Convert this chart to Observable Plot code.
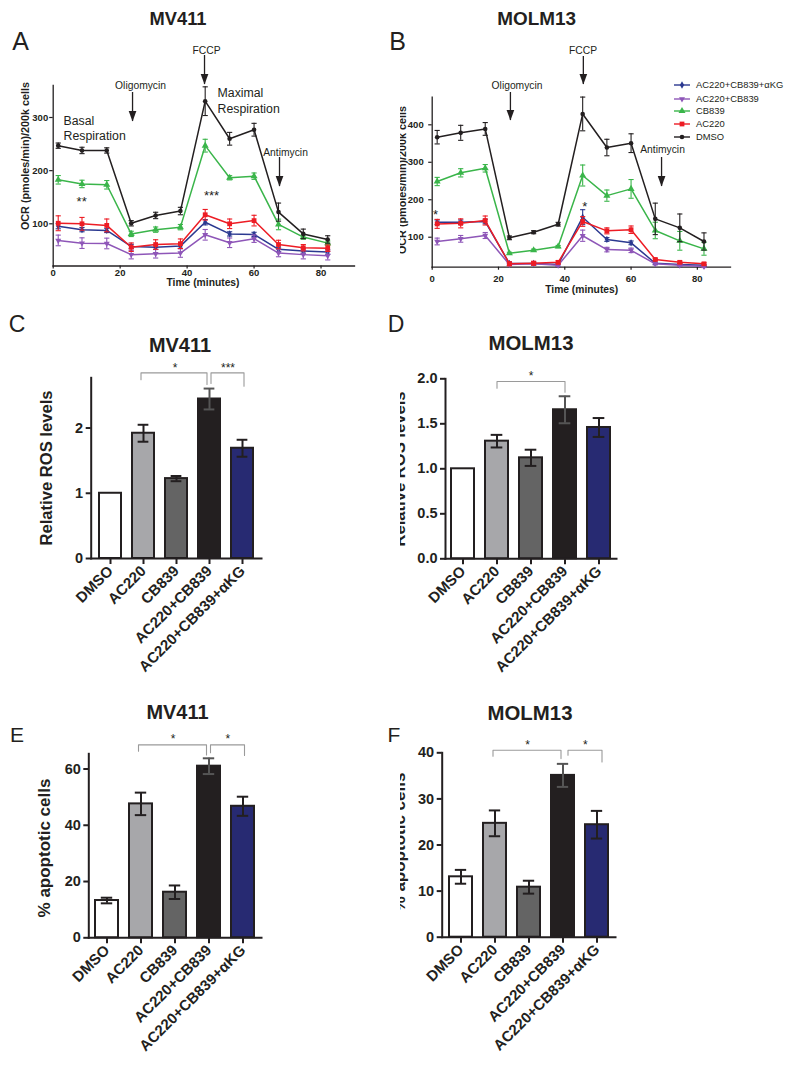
<!DOCTYPE html>
<html>
<head>
<meta charset="utf-8">
<script src="https://cdn.jsdelivr.net/npm/d3@7"></script>
<script src="https://cdn.jsdelivr.net/npm/@observablehq/plot@0.6"></script>
<style>
  html, body { margin: 0; padding: 0; background: #fff; }
  #fig { position: relative; width: 800px; height: 1073px; overflow: hidden; background: #fff; }
  #clipR { position: absolute; left: 400px; top: 0; width: 400px; height: 1073px; overflow: hidden; }
</style>
</head>
<body>
<div id="fig"><div id="clipR"></div></div>
<script>
// ---------------- DATA ----------------
// Seahorse OCR time points (minutes)
const times = [1.5, 8.6, 16.0, 23.3, 30.6, 38.0, 45.4, 52.7, 60.0, 67.3, 74.7, 82.0];
const seriesNames = ["AC220+CB839+αKG", "AC220+CB839", "CB839", "AC220", "DMSO"];

// Panel A: MV411 OCR (mean, sem)
const mv411_AKG      = [95.6, 89, 87.5, 57.4, 56, 58, 103, 81, 80, 52, 49, 47];
const mv411_AKG_err  = [5, 4, 4, 4, 4, 4, 5, 4, 4, 4, 4, 4];
const mv411_combo    = [68.7, 63.6, 63, 42, 43.6, 45, 79.3, 64.3, 72, 45, 42, 40];
const mv411_combo_err= [10, 10, 10, 8, 8, 8, 10, 9, 7, 7, 8, 8];
const mv411_CB839    = [182.8, 175, 173.4, 81, 89, 93.7, 247, 186.6, 189.6, 98.8, 75, 63.6];
const mv411_CB839_err= [8, 7, 8, 5, 5, 5, 12, 4, 6, 10, 4, 4];
const mv411_AC220    = [101, 100, 97, 56, 61, 62.5, 117, 100, 106, 61, 55, 54];
const mv411_AC220_err= [14, 12, 12, 8, 9, 9, 10, 9, 10, 8, 6, 6];
const mv411_DMSO     = [247, 238, 238, 101, 115.7, 124, 330.7, 260, 277, 122, 81, 70.5];
const mv411_DMSO_err = [5, 6, 5, 5, 6, 7, 27, 12, 12, 17, 9, 7];

// Panel B: MOLM13 OCR (mean, sem)
const molm_AKG       = [140, 140, 141.9, 30, 30, 27, 153.5, 94, 85, 30.6, 27, 25];
const molm_AKG_err   = [6, 6, 6, 4, 4, 4, 20, 5, 5, 3, 3, 3];
const molm_combo     = [88.6, 95.7, 104.6, 27, 29, 25, 104, 67, 65, 29, 25, 22];
const molm_combo_err = [9, 9, 8, 3, 3, 3, 15, 6, 6, 3, 3, 3];
const molm_CB839     = [248.7, 271.9, 284, 57, 65.3, 75, 264.7, 211, 229, 118, 90.4, 69];
const molm_CB839_err = [11, 11, 10, 3, 3, 3, 28, 15, 25, 22, 25, 17];
const molm_AC220     = [135.6, 137, 144.6, 29, 30.6, 33, 142, 117, 120, 40.6, 33, 29];
const molm_AC220_err = [12, 12, 12, 5, 5, 4, 13, 8, 10, 3, 3, 3];
const molm_DMSO      = [367, 378.6, 389, 98.4, 113.4, 134.7, 429, 339.4, 351, 149, 125, 88.6];
const molm_DMSO_err  = [18, 20, 17, 5, 4, 5, 45, 22, 25, 42, 37, 23];

// Bar panels
const categories = ["DMSO", "AC220", "CB839", "AC220+CB839", "AC220+CB839+αKG"];
const rosMV411       = [1.0, 1.92, 1.225, 2.445, 1.69];
const rosMV411_err   = [0, 0.13, 0.04, 0.16, 0.13];
const rosMOLM13      = [1.0, 1.307, 1.122, 1.656, 1.459];
const rosMOLM13_err  = [0, 0.07, 0.09, 0.15, 0.105];
const apoMV411       = [13.25, 47.6, 16.2, 61.0, 46.75];
const apoMV411_err   = [1.0, 4.0, 2.4, 2.8, 3.4];
const apoMOLM13      = [13.1, 24.7, 10.85, 35.1, 24.4];
const apoMOLM13_err  = [1.5, 2.8, 1.4, 2.5, 3.0];

// ---------------- STYLE ----------------
const FONT = '"Liberation Sans", Arial, Helvetica, sans-serif';
const INK = "#231f20";
const seriesColors = ["#2b3990", "#8e56b8", "#3ab54a", "#ed1c24", "#231f20"];
const barColors = ["#ffffff", "#a7a7aa", "#646464", "#231f20", "#272a72"];

const capSymbol = {draw(ctx, size) { const r = Math.sqrt(size / Math.PI); ctx.moveTo(-r, 0); ctx.lineTo(r, 0); }};
const headSymbol = {draw(ctx, size) { const r = Math.sqrt(size / Math.PI); ctx.moveTo(0, 0); ctx.lineTo(-0.8 * r, -2.2 * r); ctx.lineTo(0.8 * r, -2.2 * r); ctx.closePath(); }};
const triDown = {draw(ctx, size) { const r = Math.sqrt(size / Math.PI); const s = 2.3 * r, h = 2.0 * r; ctx.moveTo(-s / 2, -h / 3); ctx.lineTo(s / 2, -h / 3); ctx.lineTo(0, 2 * h / 3); ctx.closePath(); }};
const seriesSymbols = ["diamond", triDown, "triangle", "square", "circle"];
const seriesR = [2.2, 2.6, 2.6, 2.7, 2.3];

const fig = document.getElementById("fig");
const clipR = document.getElementById("clipR");

function addText(parent, text, x, y, size, weight = "bold", rotate = 0, ox = 0) {
  const d = document.createElement("div");
  d.textContent = text;
  d.style.cssText = `position:absolute;left:${x - ox}px;top:${y}px;transform:translate(-50%,-50%) rotate(${rotate}deg);` +
    `font-family:${FONT};font-size:${size}px;font-weight:${weight};line-height:1;white-space:nowrap;color:${INK};`;
  parent.appendChild(d);
}

function mount(svg, left, top) {
  svg.style.position = "absolute";
  svg.style.left = left + "px";
  svg.style.top = top + "px";
  fig.appendChild(svg);
}

// ---------------- LINE CHARTS (A, B) ----------------
function ocrChart(cfg) {
  const rows = seriesNames.flatMap((s, k) =>
    times.map((t, i) => ({series: s, t, v: cfg.values[k][i], e: cfg.errors[k][i]})));
  const marks = [];
  seriesNames.forEach((s, k) => {
    const sr = rows.filter(d => d.series === s);
    const col = seriesColors[k];
    marks.push(
      Plot.ruleX(sr, {x: "t", y1: d => d.v - d.e, y2: d => d.v + d.e, stroke: col, strokeWidth: 1.1}),
      Plot.dot(sr, {x: "t", y: d => d.v + d.e, symbol: capSymbol, r: 2.6, stroke: col, fill: "none", strokeWidth: 1.1}),
      Plot.dot(sr, {x: "t", y: d => d.v - d.e, symbol: capSymbol, r: 2.6, stroke: col, fill: "none", strokeWidth: 1.1}),
      Plot.line(sr, {x: "t", y: "v", stroke: col, strokeWidth: 1.5}),
      Plot.dot(sr, {x: "t", y: "v", symbol: seriesSymbols[k], r: seriesR[k], fill: col, stroke: "none"})
    );
  });
  const notesMid = cfg.notes.filter(d => d.anchor === "middle");
  const notesStart = cfg.notes.filter(d => d.anchor === "start");
  const svg = Plot.plot({
    width: cfg.width, height: cfg.height,
    marginLeft: cfg.ml, marginRight: cfg.mr, marginTop: cfg.mt, marginBottom: cfg.mb,
    x: {domain: [0, 90]},
    y: {domain: cfg.yDomain},
    style: {background: "transparent", overflow: "visible", fontFamily: FONT, fontSize: "9.5px", fontWeight: "bold", color: INK},
    marks: [
      Plot.axisX({ticks: [0, 20, 40, 60, 80], tickSize: 3, tickPadding: cfg.xPad, label: null, strokeWidth: 1.2}),
      Plot.axisY({ticks: cfg.yTicks, tickSize: 3.5, tickPadding: cfg.yPad, label: null, strokeWidth: 1.2}),
      Plot.frame({anchor: "left", strokeWidth: 1.3}),
      Plot.frame({anchor: "bottom", strokeWidth: 1.3}),
      ...marks,
      Plot.ruleX(cfg.arrows, {x: "t", y1: "from", y2: "to", stroke: INK, strokeWidth: 1.3}),
      Plot.dot(cfg.arrows, {x: "t", y: "to", symbol: headSymbol, r: 4.8, fill: INK, stroke: "none"}),
      Plot.text(notesMid, {x: "t", y: "v", text: "text", fontSize: "size", textAnchor: "middle", fontWeight: "normal", fill: INK}),
      Plot.text(notesStart, {x: "t", y: "v", text: "text", fontSize: "size", textAnchor: "start", lineHeight: 1.25, fontWeight: "normal", fill: INK}),
      Plot.text(cfg.stars, {x: "t", y: "v", text: "label", fontSize: 13, dy: 3, fontWeight: "normal", fill: INK})
    ]
  });
  mount(svg, cfg.left, cfg.top);
}

ocrChart({
  left: 0, top: 40, width: 395, height: 260, ml: 52.7, mr: 41, mt: 45, mb: 34.5,
  yDomain: [20.6, 360.2], yTicks: [100, 200, 300], xPad: 0, yPad: 1.5,
  values: [mv411_AKG, mv411_combo, mv411_CB839, mv411_AC220, mv411_DMSO],
  errors: [mv411_AKG_err, mv411_combo_err, mv411_CB839_err, mv411_AC220_err, mv411_DMSO_err],
  arrows: [{t: 23.7, from: 347, to: 292.5}, {t: 45.2, from: 416.6, to: 362}, {t: 67.6, from: 224.7, to: 170}],
  notes: [
    {text: "Oligomycin", t: 26.1, v: 359, anchor: "middle", size: 10.3},
    {text: "FCCP", t: 45.8, v: 425, anchor: "middle", size: 10.3},
    {text: "Antimycin", t: 69.4, v: 233, anchor: "middle", size: 10.3},
    {text: "Basal\nRespiration", t: 3.1, v: 281, anchor: "start", size: 12.3},
    {text: "Maximal\nRespiration", t: 49.1, v: 333, anchor: "start", size: 12.3}
  ],
  stars: [{label: "**", t: 8.5, v: 147.6}, {label: "***", t: 47.3, v: 159}]
});

ocrChart({
  left: 400, top: 40, width: 400, height: 260, ml: 31.7, mr: 70, mt: 56.7, mb: 33.3,
  yDomain: [20, 473.7], yTicks: [100, 200, 300, 400], xPad: 5, yPad: 5,
  values: [molm_AKG, molm_combo, molm_CB839, molm_AC220, molm_DMSO],
  errors: [molm_AKG_err, molm_combo_err, molm_CB839_err, molm_AC220_err, molm_DMSO_err],
  arrows: [{t: 23.6, from: 486.2, to: 411.5}, {t: 45.6, from: 582.3, to: 507.6}, {t: 69.2, from: 312.7, to: 235.3}],
  notes: [
    {text: "Oligomycin", t: 25.6, v: 504.9, anchor: "middle", size: 10.3},
    {text: "FCCP", t: 45.5, v: 598.3, anchor: "middle", size: 10.3},
    {text: "Antimycin", t: 69.5, v: 334, anchor: "middle", size: 10.3}
  ],
  stars: [{label: "*", t: 1.0, v: 168.6}, {label: "*", t: 46, v: 190}]
});

// Legend (panel B)
{
  const rowsY = [85, 98.5, 111, 123.5, 137];
  const symFns = [d3.symbolDiamond, null, d3.symbolTriangle, d3.symbolSquare, d3.symbolCircle];
  seriesNames.forEach((s, k) => {
    const ns = "http://www.w3.org/2000/svg";
    const sv = document.createElementNS(ns, "svg");
    sv.setAttribute("width", 18); sv.setAttribute("height", 10);
    sv.style.cssText = `position:absolute;left:674px;top:${rowsY[k] - 5}px;overflow:visible;`;
    const ln = document.createElementNS(ns, "line");
    ln.setAttribute("x1", 0); ln.setAttribute("x2", 16); ln.setAttribute("y1", 5); ln.setAttribute("y2", 5);
    ln.setAttribute("stroke", seriesColors[k]); ln.setAttribute("stroke-width", 1.4);
    sv.appendChild(ln);
    const p = document.createElementNS(ns, "path");
    const size = Math.PI * seriesR[k] * seriesR[k];
    const gen = d3.symbol(symFns[k] || triDown, size);
    p.setAttribute("d", gen());
    p.setAttribute("transform", "translate(8,5)");
    p.setAttribute("fill", seriesColors[k]);
    sv.appendChild(p);
    fig.appendChild(sv);
    const t = document.createElement("div");
    t.textContent = s;
    t.style.cssText = `position:absolute;left:696px;top:${rowsY[k]}px;transform:translateY(-50%);font-family:${FONT};font-size:9.4px;line-height:1;white-space:nowrap;color:${INK};`;
    fig.appendChild(t);
  });
}

// ---------------- BAR CHARTS (C–F) ----------------
const PI_ = 0.33, PO_ = 0.17;
function barChart(cfg) {
  const rows = categories.map((c, i) => ({cat: c, v: cfg.values[i], e: cfg.errors[i]}));
  const frameW = cfg.width - cfg.ml - cfg.mr;
  const step = frameW / (categories.length - PI_ + 2 * PO_);
  const bw = step * (1 - PI_);
  const capInset = (bw - 11.5) / 2;
  const combo = "AC220+CB839";
  const errBlack = rows.filter(d => d.e > 0 && d.cat !== combo);
  const errGray = rows.filter(d => d.e > 0 && d.cat === combo);
  const errMarks = (data, col) => [
    Plot.ruleX(data, {x: "cat", y1: d => d.v - d.e, y2: d => d.v + d.e, stroke: col, strokeWidth: 2}),
    Plot.tickY(data, {x: "cat", y: d => d.v + d.e, inset: capInset, stroke: col, strokeWidth: 2}),
    Plot.tickY(data, {x: "cat", y: d => d.v - d.e, inset: capInset, stroke: col, strokeWidth: 2})
  ];
  const bracketMarks = cfg.brackets.flatMap(b => {
    const pts = [{x: b.from, y: b.yFrom}, {x: b.from, y: b.y}, {x: b.to, y: b.y}, {x: b.to, y: b.yTo}];
    const i1 = categories.indexOf(b.from), i2 = categories.indexOf(b.to);
    return [
      Plot.line(pts, {x: "x", y: "y", stroke: "#9a9a9a", strokeWidth: 1.1, dx: b.dx}),
      Plot.text([b], {x: "from", y: "yStar", text: "label", dx: (i2 - i1) * step / 2 + b.dx, dy: 3, fontSize: 12, fontWeight: "normal", fill: INK})
    ];
  });
  const svg = Plot.plot({
    width: cfg.width, height: cfg.height,
    marginLeft: cfg.ml, marginRight: cfg.mr, marginTop: cfg.mt, marginBottom: cfg.mb,
    x: {domain: categories, paddingInner: PI_, paddingOuter: PO_, align: 0.5},
    y: {domain: cfg.yDomain},
    color: {domain: categories, range: barColors},
    style: {background: "transparent", overflow: "visible", fontFamily: FONT, fontWeight: "bold", color: INK},
    marks: [
      Plot.barY(rows, {x: "cat", y: "v", fill: "cat", stroke: INK, strokeWidth: 2}),
      ...errMarks(errBlack, INK),
      ...errMarks(errGray, "#555555"),
      Plot.frame({anchor: "left", strokeWidth: 2}),
      Plot.frame({anchor: "bottom", strokeWidth: 2}),
      Plot.axisY({ticks: cfg.yTicks, tickFormat: cfg.fmt, tickSize: 5, tickPadding: 3, fontSize: 14.5, label: null, strokeWidth: 2}),
      Plot.axisX({tickSize: 6, tickPadding: 4, tickRotate: -45, fontSize: 15, label: null, strokeWidth: 2}),
      ...bracketMarks
    ]
  });
  mount(svg, cfg.left, cfg.top);
}

barChart({
  left: 0, top: 355, width: 400, height: 340, ml: 90.7, mr: 139, mt: 22.3, mb: 137,
  yDomain: [0, 2.77], yTicks: [0, 1, 2], fmt: "d",
  values: rosMV411, errors: rosMV411_err,
  brackets: [
    {from: "AC220", to: "AC220+CB839", y: 2.846, yFrom: 2.739, yTo: 2.667, label: "*", yStar: 2.958, dx: -2.5},
    {from: "AC220+CB839", to: "AC220+CB839+αKG", y: 2.846, yFrom: 2.682, yTo: 2.641, label: "***", yStar: 2.958, dx: 1.5}
  ]
});
barChart({
  left: 400, top: 355, width: 400, height: 340, ml: 45, mr: 184, mt: 23.3, mb: 136.7,
  yDomain: [0, 2], yTicks: [0, 0.5, 1, 1.5, 2], fmt: ".1f",
  values: rosMOLM13, errors: rosMOLM13_err,
  brackets: [
    {from: "AC220", to: "AC220+CB839", y: 1.97, yFrom: 1.896, yTo: 1.851, label: "*", yStar: 2.062, dx: 0}
  ]
});
barChart({
  left: 0, top: 725, width: 400, height: 348, ml: 88.3, mr: 139, mt: 28.3, mb: 135.7,
  yDomain: [0, 65.4], yTicks: [0, 20, 40, 60], fmt: "d",
  values: apoMV411, errors: apoMV411_err,
  brackets: [
    {from: "AC220", to: "AC220+CB839", y: 68.56, yFrom: 66.3, yTo: 65.0, label: "*", yStar: 71.5, dx: -2.5},
    {from: "AC220+CB839", to: "AC220+CB839+αKG", y: 68.56, yFrom: 65.8, yTo: 64.8, label: "*", yStar: 71.5, dx: 1.5}
  ]
});
barChart({
  left: 400, top: 725, width: 400, height: 348, ml: 41.7, mr: 185, mt: 27.3, mb: 136.3,
  yDomain: [0, 40], yTicks: [0, 10, 20, 30, 40], fmt: "d",
  values: apoMOLM13, errors: apoMOLM13_err,
  brackets: [
    {from: "AC220", to: "AC220+CB839", y: 40.54, yFrom: 39.24, yTo: 38.74, label: "*", yStar: 42.26, dx: -2},
    {from: "AC220+CB839", to: "AC220+CB839+αKG", y: 40.54, yFrom: 39.46, yTo: 38.0, label: "*", yStar: 42.26, dx: 5}
  ]
});

// ---------------- TEXT: titles, panel letters, axis titles ----------------
addText(fig, "MV411", 178, 18.8, 18.3);
addText(fig, "MOLM13", 536.7, 18.5, 18.9);
addText(fig, "MV411", 180, 345.6, 19.9);
addText(fig, "MOLM13", 531, 343.3, 20.4);
addText(fig, "MV411", 177.5, 712.5, 19.9);
addText(fig, "MOLM13", 530, 712.5, 20.4);

addText(fig, "A", 20.5, 41, 25, "normal");
addText(fig, "B", 397.5, 41, 25, "normal");
addText(fig, "C", 17, 324, 23, "normal");
addText(fig, "D", 396, 324, 23, "normal");
addText(fig, "E", 17, 734, 21, "normal");
addText(fig, "F", 394, 734, 21, "normal");

addText(fig, "OCR (pmoles/min)/200k cells", 24.7, 156, 10.8, "bold", -90);
addText(clipR, "OCR (pmoles/min)/200k cells", 402, 180, 10.8, "bold", -90, 400);
addText(fig, "Time (minutes)", 203, 283, 10.3);
addText(fig, "Time (minutes)", 581.7, 290, 10.3);
addText(fig, "Relative ROS levels", 46.7, 468.3, 16.6, "bold", -90);
addText(clipR, "Relative ROS levels", 400, 469, 16.6, "bold", -90, 400);
addText(fig, "% apoptotic cells", 44, 848, 17, "bold", -90);
addText(clipR, "% apoptotic cells", 399, 842, 17, "bold", -90, 400);
</script>
</body>
</html>
